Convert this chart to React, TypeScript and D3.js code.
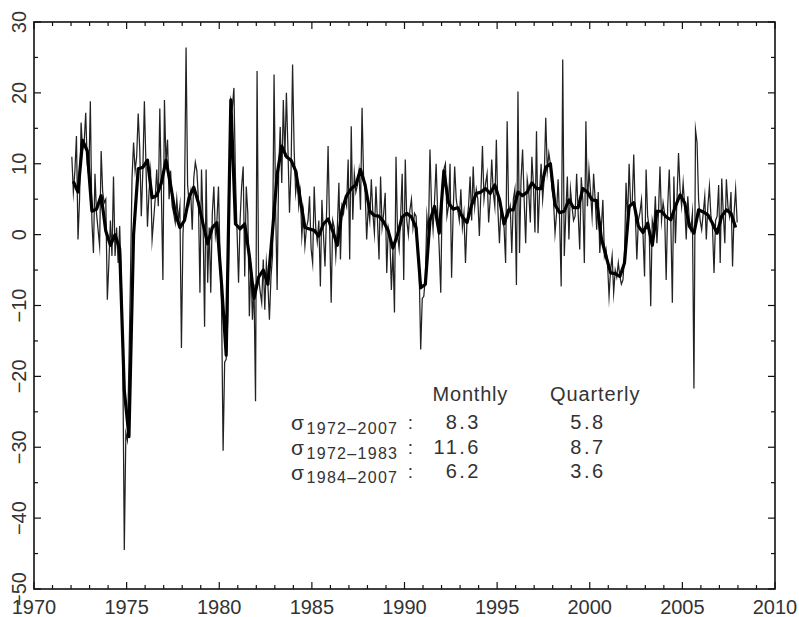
import React from 'react';
import * as d3 from 'd3';

const START_YEAR = 1972;

// Monthly series, Jan 1972 .. Dec 2007
const monthlyValues: number[] = [
  // 1972
  11, 6, 9, 13.9, -0.7, 5, 15.8, 12, 13, 17.2, 10, 8.2,
  // 1973
  18.8, 2, -2.6, 8.6, 3, 0.7, -1.6, 11.8, 6, 4.5, 5, -9.2,
  // 1974
  -4, 2, -3, 8.2, -3, 1, -4, 1.2, -6, -17, -44.5, -28,
  // 1975
  -29, -18, -6, 8, 13, 9, 11, 17.1, 12, 2.6, 9, 18.8,
  // 1976
  10, 1.1, 6, 8.8, -0.7, 2.1, 5, 9.2, 4, 17.8, 6, -6.4,
  // 1977
  19, 10, 13.4, 5, 9, 4, 3, 1.7, 5, 2, 4, -16,
  // 1978
  0, 5, 26.4, 7, 4.5, 6, 0.7, 8, 10.2, 9, 5, -8.2,
  // 1979
  9.2, 2, -13, 9.2, -6.8, 1, -8.2, 3, 6.8, 0, 2, 6.8,
  // 1980
  -3, -10, -30.5, -18, -17.6, -12, 4, 19, 18, 20.7, 8, 0.7,
  // 1981
  -6.8, 2, 6.8, 9.6, -5.9, 6.8, 3, -11.5, -4, -12, -7, -23.5,
  // 1982
  23.1, -6, -8, -9.6, -3.5, -10.6, -4, -7, -12, -6, -3, 22.6,
  // 1983
  4, -7.8, 9.2, 15.2, 7.3, 19, 11, 20, 12, 3.1, 9, 24,
  // 1984
  12, 5.9, 8, 4, 6, -0.2, 3, -1.6, 1, 2, 5.4, -2,
  // 1985
  -4, 6.8, 1, -1, 2, -7.3, 4.9, 0, -4.5, 3, 12.5, 1,
  // 1986
  -9.6, 2, 1, -3, 1, 7.3, -3.5, 4, 3, 5, 4, 10.6,
  // 1987
  -3.5, 15.3, 2.1, 8.6, 6, 7, 9, 3.5, 17.9, 8, 6, -0.7,
  // 1988
  4, 2, 7.8, 3, 0.2, 6.8, 2, -3.5, 8.2, 1, 3, 5.9,
  // 1989
  -5.4, 1, -0.2, -7.8, -2, -11, 11, 0, -2, 2.6, 8.6, -6.4,
  // 1990
  10.6, 2, 0, 3.5, 5, 1, 3, 2.6, -2, -5, -16.2, -9,
  // 1991
  -8.7, -6, 2.6, 0, 12, 4, 0.7, 5, 10, 3, -2.1, -8.2,
  // 1992
  7, 9.2, 10, 2.6, 4, 10, -6.1, 3, 9.6, 5, 3.5, 2,
  // 1993
  6.4, 1, 3, -4, 2, 4, 8.2, 2, 9.6, 4, 6.4, 5,
  // 1994
  -0.2, 6, 12.5, 5, 7.2, 8.6, 1.7, 5, 10.6, 6, 4, 13.4,
  // 1995
  3.5, -1.2, 4, 2.1, 1, -4, 16, 3, 4, -2.6, 5, 6.4,
  // 1996
  -7.1, 20.2, -2.6, 7.8, 12, 5, -1.2, 7.8, 6, 1.7, 11, 7,
  // 1997
  0.3, 14.6, 0.2, 6, 10, 5, 8, 16.5, 9, 11.5, 10, 6.4,
  // 1998
  5, 0.2, 3, 7.8, 2, -7.3, 24.7, -3, 3, 8.2, -0.7, 6.4,
  // 1999
  4, 2, 2.6, 8.6, 3, -2.1, 8.1, 5, -4, 16, 4, 9.2,
  // 2000
  6, 2.6, 8.6, 5, 0.7, 6, -2.6, 1, 4.9, -3, -2, -4,
  // 2001
  -8.7, -5, -3, -8.2, -5, -6, -4, -5.9, -7, -6.4, -3, 7.3,
  // 2002
  2, 10, 4, 4.5, 11.3, 3, -3.5, 2, 3.1, 4.9, 0, -5.9,
  // 2003
  9.2, 2.6, 1, -10.1, 2, 0.7, 5.4, -1.2, 3, 9.6, 2, 4.5,
  // 2004
  3, -6.4, 4, 9.2, 2, -9.6, 8.2, -1.2, 5, 11.5, 6.4, 4,
  // 2005
  7.3, 4, -0.7, 5.4, 2, 0.7, 3, -21.7, 14.8, 13, 5, 2,
  // 2006
  0.7, 3, 5.4, -0.7, 4, 6.8, 2.6, 1, -5.4, 2, 2.6, 7,
  // 2007
  -4, 7.9, 3, -1.2, 7.8, 4, 2.6, 6, -4.5, 3, 6.4, 1.7,
];

// Quarterly series, 1972Q1 .. 2007Q4
const quarterlyValues: number[] = [
  7.5, 6.0, 13.3, 11.8, // 1972
  3.3, 3.6, 5.5, 0.5, // 1973
  -1.5, 0.0, -2.0, -22.0, // 1974
  -28.5, 0.0, 9.3, 9.5, // 1975
  10.5, 5.2, 5.5, 7.3, // 1976
  10.5, 7.0, 3.0, 1.0, // 1977
  2.0, 5.3, 6.7, 4.5, // 1978
  1.5, -1.3, 1.0, 1.7, // 1979
  -7.0, -17.0, 19.0, 1.5, // 1980
  0.8, 1.5, -3.0, -9.0, // 1981
  -6.0, -5.0, -7.0, 0.5, // 1982
  8.5, 12.5, 11.0, 10.5, // 1983
  9.0, 5.0, 1.0, 0.8, // 1984
  0.6, -0.2, 1.5, 2.2, // 1985
  0.5, -1.5, 3.5, 5.5, // 1986
  6.5, 7.0, 9.2, 7.0, // 1987
  3.3, 2.7, 2.6, 1.8, // 1988
  0.5, -1.9, 0.0, 2.5, // 1989
  3.0, 2.5, 1.0, -7.5, // 1990
  -7.0, 2.0, 4.0, 0.2, // 1991
  9.0, 4.5, 3.6, 3.8, // 1992
  2.5, 1.7, 4.2, 5.8, // 1993
  6.0, 6.5, 5.8, 7.0, // 1994
  5.0, 1.5, 3.5, 3.5, // 1995
  6.0, 5.5, 6.0, 7.3, // 1996
  6.5, 6.5, 9.5, 10.0, // 1997
  4.2, 3.1, 3.3, 4.9, // 1998
  3.8, 3.8, 6.5, 6.0, // 1999
  4.9, 4.8, -0.5, -3.0, // 2000
  -5.4, -5.5, -5.9, -4.0, // 2001
  4.0, 4.5, 1.2, 0.3, // 2002
  1.6, -1.5, 3.3, 3.3, // 2003
  2.5, 2.1, 4.0, 5.6, // 2004
  4.5, 1.2, 0.2, 3.5, // 2005
  3.2, 2.8, 1.6, 0.2, // 2006
  2.6, 3.5, 3.0, 1.0, // 2007
];

const xTickValues = [1970, 1975, 1980, 1985, 1990, 1995, 2000, 2005, 2010];
const yTickValues = [-50, -40, -30, -20, -10, 0, 10, 20, 30];

const columnHeaders = ['Monthly', 'Quarterly'];
const sigmaPeriods = ['1972\u20132007', '1972\u20131983', '1984\u20132007'];
const sigmaMonthly = ['8.3', '11.6', '6.2'];
const sigmaQuarterly = ['5.8', '8.7', '3.6'];

const W = 799;
const H = 617;
const L = 34, R = 775, T = 22, B = 589;
const FONT = '"Liberation Sans", Arial, sans-serif';
const TXT = '#333';

export default function App() {
  const x = d3.scaleLinear().domain([1970, 2010]).range([L, R]);
  const y = d3.scaleLinear().domain([-50, 30]).range([B, T]);

  const monthly = monthlyValues.map((v, i) => ({ t: START_YEAR + (i + 0.5) / 12, v }));
  const quarterly = quarterlyValues.map((v, i) => ({ t: START_YEAR + (i + 0.5) / 4, v }));

  const line = d3
    .line<{ t: number; v: number }>()
    .x((d) => x(d.t))
    .y((d) => y(d.v));

  const xMinor = d3.range(1970, 2011, 1);
  const yMinor = d3.range(-50, 31, 5);

  const rowBase = [428.5, 453.5, 478];

  return (
    <svg
      width={W}
      height={H}
      viewBox={`0 0 ${W} ${H}`}
      style={{ position: 'absolute', left: 0, top: 0, background: '#fff' }}
    >
      <rect x={0} y={0} width={W} height={H} fill="#fff" />
      {/* series */}
      <path d={line(monthly) || ''} fill="none" stroke="#222" strokeWidth={1.25} strokeLinejoin="miter" strokeMiterlimit={20} />
      <path d={line(quarterly) || ''} fill="none" stroke="#000" strokeWidth={3.2} strokeLinejoin="round" />

      {/* frame */}
      <rect x={L} y={T} width={R - L} height={B - T} fill="none" stroke="#111" strokeWidth={1.6} />

      {/* x ticks bottom and top */}
      {xMinor.map((t) => {
        const len = t % 5 === 0 ? 7 : 4;
        return (
          <g key={'xt' + t}>
            <line x1={x(t)} x2={x(t)} y1={B} y2={B - len} stroke="#111" strokeWidth={1.2} />
            <line x1={x(t)} x2={x(t)} y1={T} y2={T + len} stroke="#111" strokeWidth={1.2} />
          </g>
        );
      })}
      {/* y ticks left and right */}
      {yMinor.map((v) => {
        const len = v % 10 === 0 ? 7 : 4;
        return (
          <g key={'yt' + v}>
            <line x1={L} x2={L + len} y1={y(v)} y2={y(v)} stroke="#111" strokeWidth={1.2} />
            <line x1={R} x2={R - len} y1={y(v)} y2={y(v)} stroke="#111" strokeWidth={1.2} />
          </g>
        );
      })}

      {/* x tick labels */}
      {xTickValues.map((t) => (
        <text key={'xl' + t} x={x(t)} y={614} textAnchor="middle" fontFamily={FONT} fontSize={20} fill={TXT}>
          {t}
        </text>
      ))}
      {/* y tick labels (rotated) */}
      {yTickValues.map((v) => (
        <text
          key={'yl' + v}
          transform={`translate(26,${y(v)}) rotate(-90)`}
          textAnchor="middle"
          fontFamily={FONT}
          fontSize={20}
          fill={TXT}
        >
          {v < 0 ? '\u2212' + Math.abs(v) : String(v)}
        </text>
      ))}

      {/* annotation table */}
      <text x={432.5} y={401} fontFamily={FONT} fontSize={20} fill={TXT} letterSpacing={0.8}>
        {columnHeaders[0]}
      </text>
      <text x={550} y={401} fontFamily={FONT} fontSize={20} fill={TXT} letterSpacing={0.9}>
        {columnHeaders[1]}
      </text>
      {sigmaPeriods.map((p, i) => (
        <g key={'row' + i}>
          <text x={291} y={rowBase[i] + 1.5} fontFamily={FONT} fontSize={21} fill={TXT}>
            {'\u03c3'}
          </text>
          <text x={306.5} y={rowBase[i] + 5} fontFamily={FONT} fontSize={16} fill={TXT} letterSpacing={1.3}>
            {p}
          </text>
          <text x={410.5} y={rowBase[i]} textAnchor="middle" fontFamily={FONT} fontSize={19} fill={TXT}>
            :
          </text>
          <text x={481} y={rowBase[i]} textAnchor="end" fontFamily={FONT} fontSize={20} fill={TXT} letterSpacing={2.5}>
            {sigmaMonthly[i]}
          </text>
          <text x={588} y={rowBase[i]} textAnchor="middle" fontFamily={FONT} fontSize={20} fill={TXT} letterSpacing={2.5}>
            {sigmaQuarterly[i]}
          </text>
        </g>
      ))}
    </svg>
  );
}
